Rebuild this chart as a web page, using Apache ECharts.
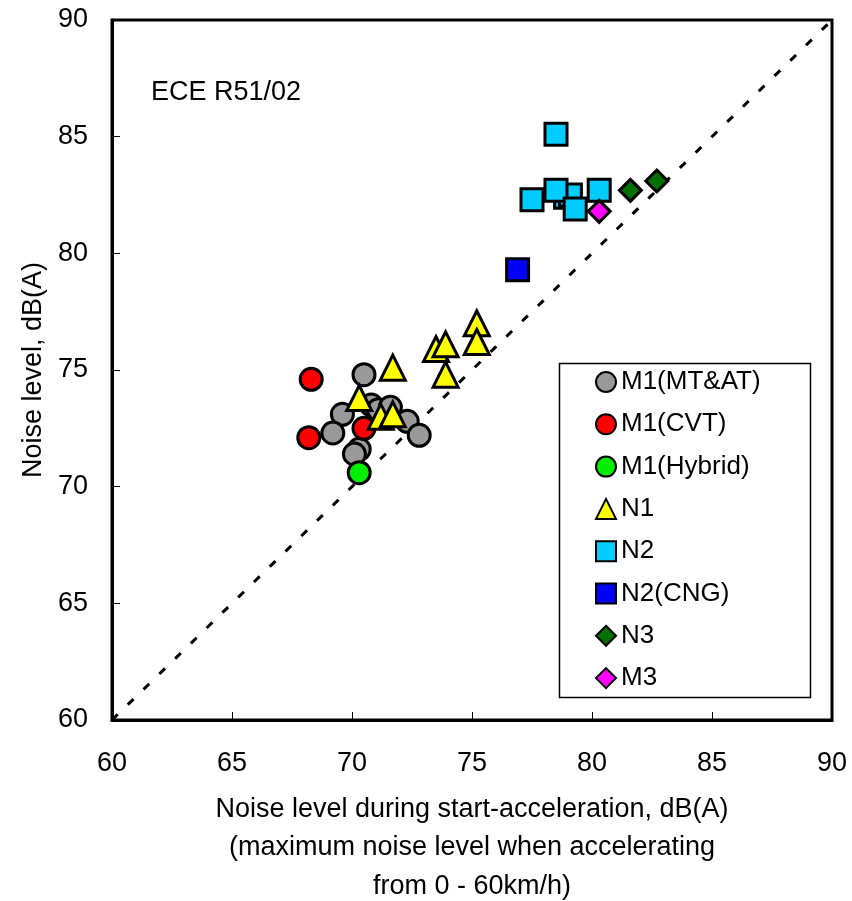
<!DOCTYPE html>
<html>
<head>
<meta charset="utf-8">
<script src="https://cdn.jsdelivr.net/npm/echarts@6/dist/echarts.min.js"></script>
<style>
html,body{margin:0;padding:0;background:#fff;}
#chart{width:852px;height:901px;}
</style>
</head>
<body>
<div id="chart"></div>
<script>
// Data: [x (start-acceleration), y (ECE R51/02)]
var seriesNames = ['M1(MT&AT)', 'M1(CVT)', 'M1(Hybrid)', 'N1', 'N2', 'N2(CNG)', 'N3', 'M3'];
var m1MtAt = [[70.5, 74.8], [69.6, 73.1], [69.2, 72.3], [70.8, 73.5], [71.1, 73.3], [71.6, 73.4],
              [72.3, 72.8], [72.8, 72.2], [70.3, 71.6], [70.1, 71.4]];
var m1Cvt = [[68.3, 74.6], [68.2, 72.1], [70.5, 72.5]];
var m1Hybrid = [[70.3, 70.6]];
var n1 = [[71.7, 75.1], [70.3, 73.8], [71.2, 73.0], [71.7, 73.1], [75.2, 77.0], [75.2, 76.2],
          [73.5, 75.9], [73.9, 76.1], [73.9, 74.8]];
var n2 = [[78.5, 85.1], [77.5, 82.3], [78.9, 82.4], [79.1, 82.5], [78.5, 82.7], [79.3, 81.9], [80.3, 82.7]];
var n2Cng = [[76.9, 79.3]];
var n3 = [[81.6, 82.7], [82.7, 83.1]];
var m3 = [[80.3, 81.8]];
var refLine = [[60, 60], [90, 90]];
var axisMin = 60, axisMax = 90, axisStep = 5;

var fontFam = '"Liberation Sans", Arial, sans-serif';
var chart = echarts.init(document.getElementById('chart'));

function sc(name, data, symbol, size, color) {
  return {
    name: name, type: 'scatter', data: data, symbol: symbol, symbolSize: size,
    itemStyle: { color: color, borderColor: '#000', borderWidth: 3, opacity: 1 },
    emphasis: { disabled: true }
  };
}

chart.setOption({
  animation: false,
  backgroundColor: '#fff',
  grid: { left: 112, top: 20, width: 720, height: 700, outerBoundsMode: 'none', containLabel: false,
          show: true, borderColor: '#000', borderWidth: 3, backgroundColor: 'transparent' },
  xAxis: {
    type: 'value', min: axisMin, max: axisMax, interval: axisStep,
    axisLine: { show: true, lineStyle: { color: '#000', width: 3 } },
    axisTick: { show: true, inside: true, length: 8, lineStyle: { color: '#000', width: 1 } },
    axisLabel: { color: '#000', fontSize: 27, fontFamily: fontFam, margin: 30 },
    splitLine: { show: false },
    name: 'Noise level during start-acceleration, dB(A)\n(maximum noise level when accelerating\nfrom 0 - 60km/h)',
    nameLocation: 'middle', nameGap: 70,
    nameTextStyle: { color: '#000', fontSize: 27, fontFamily: fontFam, lineHeight: 38.5, verticalAlign: 'top', align: 'center' }
  },
  yAxis: {
    type: 'value', min: axisMin, max: axisMax, interval: axisStep,
    axisLine: { show: true, lineStyle: { color: '#000', width: 3 } },
    axisTick: { show: true, inside: true, length: 8, lineStyle: { color: '#000', width: 1 } },
    axisLabel: { color: '#000', fontSize: 27, fontFamily: fontFam, margin: 24 },
    splitLine: { show: false },
    name: 'Noise level, dB(A)', nameLocation: 'middle', nameGap: 64,
    nameTextStyle: { color: '#000', fontSize: 27, fontFamily: fontFam }
  },
  legend: {
    orient: 'vertical', left: 595, top: 369, padding: 0,
    itemWidth: 20, itemHeight: 20, itemGap: 16.3, itemTextGap: 7,
    data: seriesNames,
    textStyle: { color: '#000', fontSize: 26, fontFamily: fontFam },
    selectedMode: false
  },
  graphic: [
    { type: 'rect', left: 557, top: 361, shape: { width: 251, height: 334 },
      style: { fill: 'none', stroke: '#000', lineWidth: 1.5 }, z: 10 },
    { type: 'text', left: 151, top: 79, style: { text: 'ECE R51/02', fill: '#000', font: '27px ' + fontFam }, z: 10 }
  ],
  series: [
    { name: 'ref', type: 'line', data: refLine, symbol: 'none', silent: true,
      lineStyle: { color: '#000', width: 3, type: [8, 14] }, z: 1 },
    sc('M1(MT&AT)', m1MtAt, 'circle', 22, '#999999'),
    sc('M1(CVT)', m1Cvt, 'circle', 22, '#ff0000'),
    sc('M1(Hybrid)', m1Hybrid, 'circle', 22, '#00ee00'),
    sc('N1', n1, 'triangle', 25, '#ffff00'),
    sc('N2', n2, 'rect', 22, '#00ccff'),
    sc('N2(CNG)', n2Cng, 'rect', 22, '#0000ff'),
    sc('N3', n3, 'diamond', 22, '#007000'),
    sc('M3', m3, 'diamond', 22, '#ff00ff')
  ]
});
</script>
</body>
</html>
